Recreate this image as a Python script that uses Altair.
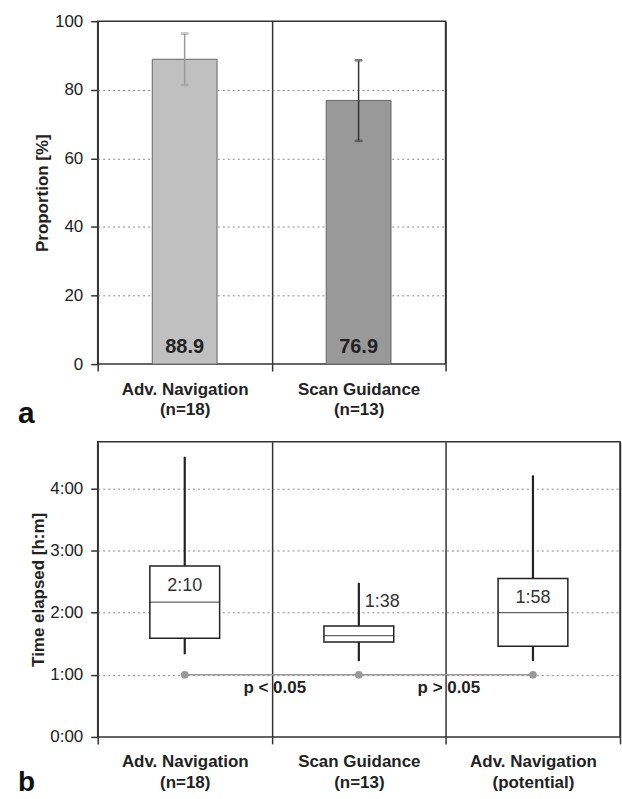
import altair as alt
import pandas as pd

FONT = "Liberation Sans"

# ---------------- data: panel a ----------------
top_groups = ["Adv. Navigation", "Scan Guidance"]
top_n = ["(n=18)", "(n=13)"]
proportion = [88.9, 76.9]
ci_low = [81.4, 65.1]
ci_high = [96.4, 88.6]

# ---------------- data: panel b (hours) ----------------
bottom_groups = ["Adv. Navigation", "Scan Guidance", "Adv. Navigation"]
bottom_sub = ["(n=18)", "(n=13)", "(potential)"]
whisk_lo = [1.33, 1.22, 1.22]
q1 = [1.59, 1.53, 1.46]
median = [2.17, 1.63, 2.00]
q3 = [2.75, 1.785, 2.55]
whisk_hi = [4.51, 2.48, 4.21]
median_labels = ["2:10", "1:38", "1:58"]
ref_time = [1.0, 1.0, 1.0]
p_labels = ["p < 0.05", "p > 0.05"]

top_cat = [f"{g}|{n}" for g, n in zip(top_groups, top_n)]
bot_cat = [f"{g}|{n}" for g, n in zip(bottom_groups, bottom_sub)]

df_top = pd.DataFrame({
    "cat": top_cat, "prop": proportion, "lo": ci_low, "hi": ci_high,
    "lab": [f"{v:.1f}" for v in proportion],
})
df_bot = pd.DataFrame({
    "cat": bot_cat, "lo": whisk_lo, "q1": q1, "med": median, "q3": q3,
    "hi": whisk_hi, "lab": median_labels, "ref": ref_time,
})
df_p = pd.DataFrame({"after": bot_cat[:2], "p": p_labels})

DARK = "#222222"


def x_axis():
    return alt.Axis(
        title=None, labelAngle=0, labelExpr="split(datum.label, '|')",
        labelFont=FONT, labelFontSize=17, labelFontWeight="bold", labelColor=DARK,
        labelLineHeight=21, labelPadding=10, tickBand="extent", tickSize=7,
        tickColor="#333", tickWidth=1.5, grid=True, gridColor="#333",
        gridWidth=1.5, gridDash=[], domain=False,
    )


# ---------------- panel a ----------------
xs_top = alt.Scale(domain=top_cat, paddingInner=0, paddingOuter=0)
xt = alt.X("cat:N", sort=top_cat, scale=xs_top, axis=x_axis())
ys_top = alt.Scale(domain=[0, 100], nice=False)
y_axis_top = alt.Axis(
    title="Proportion [%]", values=list(range(0, 101, 10)),
    labelExpr="datum.value % 20 == 0 ? datum.label : ''",
    tickSize={"condition": {"test": "datum.value % 20 != 0", "value": 5}, "value": 7},
    gridOpacity={"condition": {"test": "datum.value % 20 != 0 || datum.value == 0 || datum.value == 100", "value": 0}, "value": 1},
    gridDash=[2, 3], gridColor="#888", gridWidth=1,
    labelFont=FONT, labelFontSize=17, labelColor=DARK, labelPadding=8,
    titleFont=FONT, titleFontSize=17, titleFontWeight="bold", titleColor=DARK,
    titlePadding=3, tickColor="#333", tickWidth=1.5, domain=False,
)

base_top = alt.Chart(df_top)
bars = base_top.mark_bar(width=65, stroke="#666", strokeWidth=1).encode(
    x=xt,
    y=alt.Y("prop:Q", scale=ys_top, axis=y_axis_top),
    fill=alt.Fill("cat:N", scale=alt.Scale(domain=top_cat, range=["#c0c0c0", "#999999"]), legend=None),
)
err_stroke = alt.Stroke("cat:N", scale=alt.Scale(domain=top_cat, range=["#9a9a9a", "#333333"]), legend=None)
err = base_top.mark_rule(strokeWidth=1.5).encode(x=xt, y=alt.Y("lo:Q", scale=ys_top), y2="hi:Q", stroke=err_stroke)
cap_lo = base_top.mark_tick(size=7, thickness=1.5).encode(x=xt, y=alt.Y("lo:Q", scale=ys_top), stroke=err_stroke, fill=err_stroke)
cap_hi = base_top.mark_tick(size=7, thickness=1.5).encode(x=xt, y=alt.Y("hi:Q", scale=ys_top), stroke=err_stroke, fill=err_stroke)
vals = base_top.mark_text(font=FONT, fontSize=20, fontWeight="bold", baseline="alphabetic", dy=-11, color=DARK).encode(
    x=xt, y=alt.datum(0), text="lab:N")
letter_a = alt.Chart(pd.DataFrame({"t": ["a"]})).mark_text(
    font=FONT, fontSize=30, fontWeight="bold", align="left", baseline="alphabetic", color="#111"
).encode(x=alt.value(-80), y=alt.value(403), text="t:N")

top = alt.layer(bars, err, cap_lo, cap_hi, vals, letter_a).properties(width=349, height=344)

# ---------------- panel b ----------------
xs_bot = alt.Scale(domain=bot_cat, paddingInner=0, paddingOuter=0)
xb = alt.X("cat:N", sort=bot_cat, scale=xs_bot, axis=x_axis())
ys_bot = alt.Scale(domain=[0, 4.75], nice=False)
y_axis_bot = alt.Axis(
    title="Time elapsed [h:m]", values=[0, 1, 2, 3, 4],
    labelExpr="datum.value + ':00'",
    gridOpacity={"condition": {"test": "datum.value == 0", "value": 0}, "value": 1},
    gridDash=[2, 3], gridColor="#888", gridWidth=1, tickSize=7,
    labelFont=FONT, labelFontSize=17, labelColor=DARK, labelPadding=8,
    titleFont=FONT, titleFontSize=17, titleFontWeight="bold", titleColor=DARK,
    titlePadding=2, tickColor="#333", tickWidth=1.5, domain=False,
)

base_bot = alt.Chart(df_bot)
ref_line = base_bot.mark_line(color="#999", strokeWidth=1.5).encode(
    x=xb, y=alt.Y("ref:Q", scale=ys_bot, axis=y_axis_bot))
ref_pts = base_bot.mark_circle(size=60, color="#999", opacity=1).encode(
    x=xb, y=alt.Y("ref:Q", scale=ys_bot))
whisk = base_bot.mark_rule(color=DARK, strokeWidth=2.2).encode(
    x=xb, y=alt.Y("lo:Q", scale=ys_bot), y2="hi:Q")
box = base_bot.mark_bar(width=70, fill="white", stroke=DARK, strokeWidth=1.5).encode(
    x=xb, y=alt.Y("q1:Q", scale=ys_bot), y2="q3:Q")
med_tick = base_bot.mark_tick(size=70, thickness=1.3, color=DARK).encode(
    x=xb, y=alt.Y("med:Q", scale=ys_bot))
lab_in = base_bot.transform_filter("datum.q3 - datum.q1 > 0.5").mark_text(
    font=FONT, fontSize=18, color="#333", baseline="middle", dy=20).encode(
    x=xb, y=alt.Y("q3:Q", scale=ys_bot), text="lab:N")
lab_out = base_bot.transform_filter("datum.q3 - datum.q1 <= 0.5").mark_text(
    font=FONT, fontSize=18, color="#333", baseline="middle", align="left", dy=-24, dx=6).encode(
    x=xb, y=alt.Y("q3:Q", scale=ys_bot), text="lab:N")
p_text = alt.Chart(df_p).mark_text(
    font=FONT, fontSize=17, fontWeight="bold", color=DARK, baseline="middle", dy=13, dx=3).encode(
    x=alt.X("after:N", sort=bot_cat, scale=xs_bot, bandPosition=1, axis=x_axis()),
    y=alt.datum(1.0), text="p:N")
letter_b = alt.Chart(pd.DataFrame({"t": ["b"]})).mark_text(
    font=FONT, fontSize=28, fontWeight="bold", align="left", baseline="alphabetic", color="#111"
).encode(x=alt.value(-80), y=alt.value(350), text="t:N")

bottom = alt.layer(ref_line, ref_pts, whisk, box, med_tick, lab_in, lab_out, p_text, letter_b).properties(
    width=524, height=296)

chart = alt.vconcat(top, bottom, spacing=78, bounds="flush").properties(
    padding={"left": 17, "top": 10, "right": 0, "bottom": 0},
    background="white",
).configure_view(stroke="#333", strokeWidth=1.5)

chart.save("out.html", embed_options={"renderer": "svg", "actions": False})
